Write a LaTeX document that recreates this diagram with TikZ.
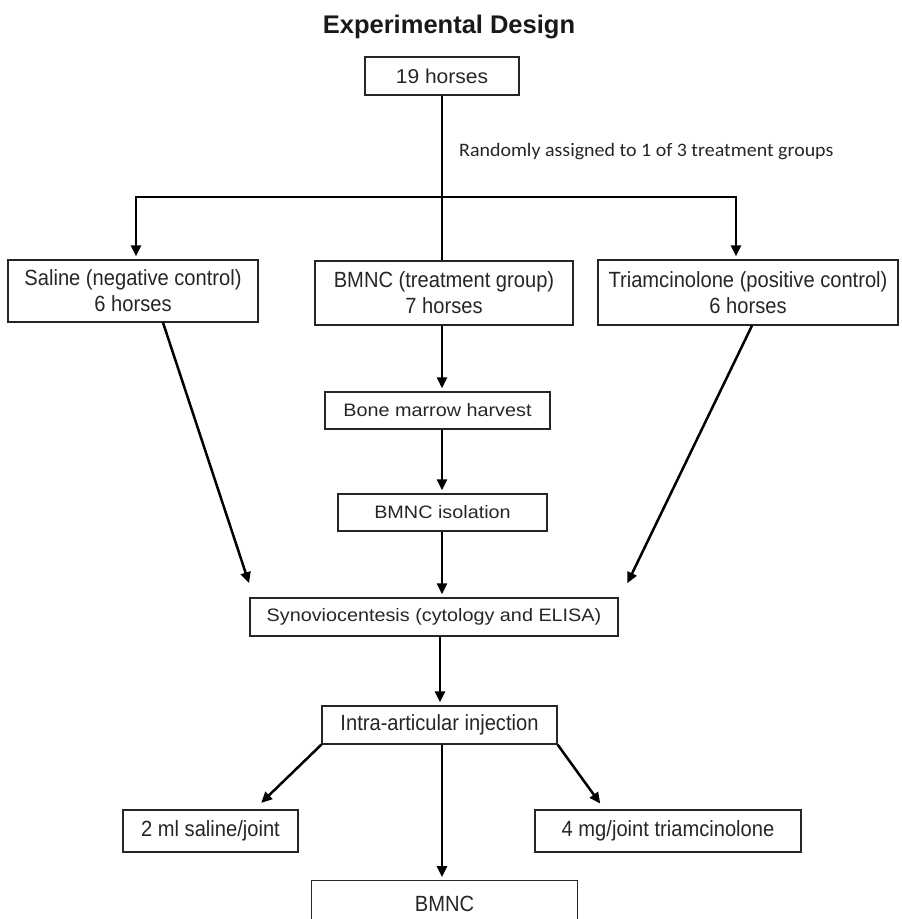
\documentclass[tikz,border=0pt]{standalone}
\usepackage{fontspec}
\setmainfont{Liberation Sans}
\newfontfamily\regfont[FakeStretch=1.1]{Liberation Sans}
\newfontfamily\horsefont[FakeStretch=1.05]{Liberation Sans}
\newfontfamily\narrowfont[FakeStretch=0.915]{Liberation Sans}
\newfontfamily\calfont[FakeStretch=1.05]{Carlito}
\usetikzlibrary{arrows.meta}
\begin{document}
\begin{tikzpicture}[x=1pt,y=-1pt,
  box/.style={draw=black!85,line width=1.2pt,inner sep=0pt,align=center,text=black!85,font=\regfont\fontsize{18}{22}\selectfont},
  nbox/.style={box,font=\narrowfont\fontsize{22}{26}\selectfont},
  arr/.style={line width=2.5pt,-{Triangle[length=11pt,width=10pt]},shorten >=3pt},
  ln/.style={line width=2.5pt}]
\useasboundingbox (0,0) rectangle (902,919);
\begin{scope}
\clip (0,0) rectangle (902,919);
\node[font=\bfseries\fontsize{25.5}{30}\selectfont,text=black!90] (title) at (449,27) {Experimental Design};
\node[box,font=\horsefont\fontsize{20}{24}\selectfont,minimum width=154pt,minimum height=38pt] (h19) at (442,76) {19 horses};
\node[nbox,minimum width=250pt,minimum height=62pt] (sal) at (133,291) {Saline (negative control)\\6 horses};
\node[nbox,minimum width=258pt,minimum height=64pt] (bmnc) at (444,293) {BMNC (treatment group)\\7 horses};
\node[nbox,minimum width=300pt,minimum height=65pt] (tri) at (748,292.5) {Triamcinolone (positive control)\\6 horses};
\node[box,minimum width=225pt,minimum height=37pt] (bmh) at (437.5,410.5) {Bone marrow harvest};
\node[box,minimum width=209pt,minimum height=37pt] (iso) at (442.5,512.5) {BMNC isolation};
\node[box,minimum width=368pt,minimum height=38pt] (syn) at (434,617) {Synoviocentesis (cytology and ELISA)};
\node[nbox,minimum width=235pt,minimum height=38pt] (intra) at (439.5,725) {Intra-articular injection};
\node[nbox,minimum width=175pt,minimum height=42pt] (ml) at (210.5,831) {2 ml saline/joint};
\node[nbox,minimum width=266pt,minimum height=42pt] (mg) at (668,831) {4 mg/joint triamcinolone};
\node[nbox,minimum width=266pt,minimum height=54pt,anchor=north] (bot) at (444.5,880) {\raisebox{8pt}{BMNC}};
\node[font=\calfont\fontsize{19}{23}\selectfont,text=black!85,anchor=west,inner sep=0pt] (rlab) at (459,152) {Randomly assigned to 1 of 3 treatment groups};
\coordinate (split) at (442,197);
\coordinate (salend) at (250,586);
\coordinate (triend) at (626,586);
\coordinate (mlend) at (259,805);
\coordinate (mgend) at (602,806);
\draw[ln] (h19.south -| split) -- (bmnc.north -| split);
\draw[arr] (split) -- (136,197) -- (sal.north -| 136,0);
\draw[arr] (split) -- (736,197) -- (tri.north -| 736,0);
\draw[arr] (bmnc.south -| split) -- (bmh.north -| split);
\draw[arr] (bmh.south -| split) -- (iso.north -| split);
\draw[arr] (iso.south -| split) -- (syn.north -| split);
\draw[arr] (sal.south -| 163,0) -- (salend);
\draw[arr] (tri.south -| 752,0) -- (triend);
\draw[arr] (syn.south -| 440,0) -- (intra.north -| 440,0);
\draw[arr] (intra.south west) -- (mlend);
\draw[arr] (intra.south east) -- (mgend);
\draw[arr] (intra.south -| 442,0) -- (bot.north -| 442,0);
\end{scope}
\end{tikzpicture}
\end{document}
